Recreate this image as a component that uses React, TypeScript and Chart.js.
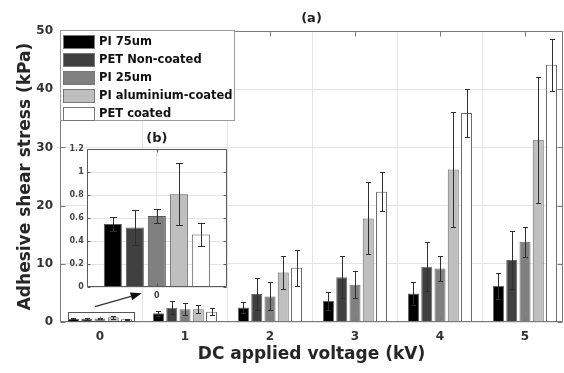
import React, { useEffect, useRef } from "react";
import { Chart, registerables } from "chart.js";
Chart.register(...registerables);

const FONT = "'DejaVu Sans', 'Liberation Sans', sans-serif";

// ---- data ----
const voltages = [0, 1, 2, 3, 4, 5];
const seriesLabels = ["PI 75um", "PET Non-coated", "PI 25um", "PI aluminium-coated", "PET coated"];
const seriesColors = ["#000000", "#404040", "#808080", "#bfbfbf", "#ffffff"];

const pi75 = [0.55, 1.49, 2.5, 3.6, 4.9, 6.2];
const pi75Err = [0.06, 0.4, 1.0, 1.5, 1.9, 2.3];
const petNonCoated = [0.52, 2.46, 4.8, 7.7, 9.5, 10.65];
const petNonCoatedErr = [0.15, 1.15, 2.7, 3.6, 4.2, 4.9];
const pi25 = [0.62, 2.18, 4.4, 6.4, 9.2, 13.8];
const pi25Err = [0.06, 1.03, 2.4, 2.3, 2.2, 2.6];
const piAluminium = [0.81, 2.18, 8.5, 17.8, 26.2, 31.3];
const piAluminiumErr = [0.27, 0.7, 2.8, 6.2, 9.9, 10.8];
const petCoated = [0.46, 1.77, 9.3, 22.4, 35.9, 44.2];
const petCoatedErr = [0.1, 0.58, 3.1, 3.3, 4.1, 4.5];

const seriesValues = [pi75, petNonCoated, pi25, piAluminium, petCoated];
const seriesErrors = [pi75Err, petNonCoatedErr, pi25Err, piAluminiumErr, petCoatedErr];

const insetCategories = ["0"];
const insetIndex = 0;

// zoom-box and arrow annotation (data coordinates of main chart)
const zoomBoxX = [-0.373, 0.4];
const zoomBoxY = [0, 1.77];
const arrowFrom = [-0.06, 2.63];
const arrowTo = [0.49, 4.93];

const FRAME = "#7a7a7a";

function errorBarPlugin(vals: number[][], errs: number[][], offset: number, cap: number) {
  return {
    id: "errbars",
    afterDatasetsDraw(chart: any) {
      const ctx = chart.ctx;
      const y = chart.scales.y;
      const ca = chart.chartArea;
      ctx.save();
      ctx.beginPath();
      ctx.rect(ca.left, ca.top, ca.right - ca.left, ca.bottom - ca.top);
      ctx.clip();
      ctx.strokeStyle = "#2e2e2e";
      ctx.lineWidth = 1;
      chart.data.datasets.forEach((_: any, i: number) => {
        const meta = chart.getDatasetMeta(i);
        meta.data.forEach((el: any, j: number) => {
          const v = vals[i][j + offset];
          const e = errs[i][j + offset];
          const x = Math.round(el.x) + 0.5;
          const yt = Math.round(y.getPixelForValue(v + e)) + 0.5;
          const yb = Math.round(y.getPixelForValue(v - e)) + 0.5;
          ctx.beginPath();
          ctx.moveTo(x, yt);
          ctx.lineTo(x, yb);
          ctx.moveTo(x - cap, yt);
          ctx.lineTo(x + cap, yt);
          ctx.moveTo(x - cap, yb);
          ctx.lineTo(x + cap, yb);
          ctx.stroke();
        });
      });
      ctx.restore();
    },
  };
}

function framePlugin(tickLen: number, color: string) {
  return {
    id: "frame",
    afterDraw(chart: any) {
      const ctx = chart.ctx;
      const ca = chart.chartArea;
      const l = Math.round(ca.left) + 0.5;
      const r = Math.round(ca.right) - 0.5;
      const t = Math.round(ca.top) + 0.5;
      const b = Math.round(ca.bottom) - 0.5;
      ctx.save();
      ctx.strokeStyle = color;
      ctx.lineWidth = 1;
      ctx.beginPath();
      ctx.rect(l, t, r - l, b - t);
      ctx.stroke();
      const ys = chart.scales.y;
      ys.ticks.forEach((tk: any) => {
        const py = Math.round(ys.getPixelForValue(tk.value)) + 0.5;
        ctx.beginPath();
        ctx.moveTo(l, py);
        ctx.lineTo(l + tickLen, py);
        ctx.moveTo(r, py);
        ctx.lineTo(r - tickLen, py);
        ctx.stroke();
      });
      const xs = chart.scales.x;
      xs.ticks.forEach((tk: any, i: number) => {
        const px = Math.round(xs.getPixelForTick(i)) + 0.5;
        ctx.beginPath();
        ctx.moveTo(px, t);
        ctx.lineTo(px, t + tickLen);
        ctx.moveTo(px, b);
        ctx.lineTo(px, b - tickLen);
        ctx.stroke();
      });
      ctx.restore();
    },
  };
}

const annotationPlugin = {
  id: "zoomAnnot",
  afterDraw(chart: any) {
    const ctx = chart.ctx;
    const xs = chart.scales.x;
    const ys = chart.scales.y;
    ctx.save();
    ctx.strokeStyle = "#555";
    ctx.lineWidth = 1;
    const x0 = Math.round(xs.getPixelForValue(zoomBoxX[0])) + 0.5;
    const x1 = Math.round(xs.getPixelForValue(zoomBoxX[1])) + 0.5;
    const y0 = Math.round(ys.getPixelForValue(zoomBoxY[1])) + 0.5;
    const y1 = Math.round(ys.getPixelForValue(zoomBoxY[0])) - 0.5;
    ctx.strokeRect(x0, y0, x1 - x0, y1 - y0);
    const ax = xs.getPixelForValue(arrowFrom[0]);
    const ay = ys.getPixelForValue(arrowFrom[1]);
    const bx = xs.getPixelForValue(arrowTo[0]);
    const by = ys.getPixelForValue(arrowTo[1]);
    const ang = Math.atan2(by - ay, bx - ax);
    const hl = 11;
    const hw = 4;
    const baseX = bx - hl * Math.cos(ang);
    const baseY = by - hl * Math.sin(ang);
    ctx.strokeStyle = "#333";
    ctx.lineWidth = 1.2;
    ctx.beginPath();
    ctx.moveTo(ax, ay);
    ctx.lineTo(baseX, baseY);
    ctx.stroke();
    ctx.fillStyle = "#111";
    ctx.beginPath();
    ctx.moveTo(bx, by);
    ctx.lineTo(baseX - hw * Math.sin(ang), baseY + hw * Math.cos(ang));
    ctx.lineTo(baseX + hw * Math.sin(ang), baseY - hw * Math.cos(ang));
    ctx.closePath();
    ctx.fill();
    ctx.restore();
  },
};

const whiteAreaPlugin = {
  id: "whiteArea",
  beforeDraw(chart: any) {
    const ca = chart.chartArea;
    const ctx = chart.ctx;
    ctx.save();
    ctx.fillStyle = "#ffffff";
    ctx.fillRect(ca.left, ca.top, ca.right - ca.left, ca.bottom - ca.top);
    ctx.restore();
  },
};

export default function App() {
  const mainRef = useRef<HTMLCanvasElement>(null);
  const insetRef = useRef<HTMLCanvasElement>(null);

  useEffect(() => {
    Chart.defaults.font.family = FONT;

    const main = new Chart(mainRef.current!, {
      type: "bar",
      data: {
        datasets: seriesLabels.map((label, i) => ({
          label,
          data: voltages.map((v, j) => ({ x: v, y: seriesValues[i][j] })),
          backgroundColor: seriesColors[i],
          borderColor: "#6a6a6a",
          borderWidth: 1,
          categoryPercentage: 0.78,
          barPercentage: 0.83,
        })),
      },
      options: {
        animation: false,
        responsive: false,
        devicePixelRatio: 1,
        layout: { padding: { left: 0, right: 1, top: 0, bottom: 0 } },
        plugins: {
          legend: { display: false },
          tooltip: { enabled: false },
          title: {
            display: true,
            text: "(a)",
            fullSize: false,
            color: "#1e1e1e",
            font: { family: FONT, size: 13, weight: "bold" },
            padding: { top: 10.7, bottom: 4.7 },
          },
        },
        scales: {
          x: {
            type: "linear",
            min: -0.4706,
            max: 5.447,
            offset: false,
            ticks: {
              stepSize: 1,
              includeBounds: false,
              color: "#333",
              font: { family: FONT, size: 12, weight: "bold" },
              padding: 8,
            },
            grid: { color: "#e4e4e4", drawTicks: false },
            border: { display: false },
            title: {
              display: true,
              text: "DC applied voltage (kV)",
              color: "#262626",
              font: { family: FONT, size: 17, weight: "bold" },
              padding: { top: 0, bottom: 8 },
            },
            afterFit: (s: any) => {
              s.height = 51;
            },
          },
          y: {
            min: 0,
            max: 50,
            ticks: {
              stepSize: 10,
              color: "#333",
              font: { family: FONT, size: 12, weight: "bold" },
              padding: 7,
            },
            grid: { color: "#e4e4e4", drawTicks: false },
            border: { display: false },
            title: {
              display: true,
              text: "Adhesive shear stress (kPa)",
              color: "#262626",
              font: { family: FONT, size: 17, weight: "bold" },
              padding: { top: 15, bottom: 0 },
            },
            afterFit: (s: any) => {
              s.width = 60;
            },
          },
        },
      },
      plugins: [errorBarPlugin(seriesValues, seriesErrors, 0, 2.5), framePlugin(5, FRAME), annotationPlugin],
    } as any);

    const inset = new Chart(insetRef.current!, {
      type: "bar",
      data: {
        labels: insetCategories,
        datasets: seriesLabels.map((label, i) => ({
          label,
          data: [seriesValues[i][insetIndex]],
          backgroundColor: seriesColors[i],
          borderColor: "#5a5a5a",
          borderWidth: 1,
          categoryPercentage: 0.784,
          barPercentage: 0.82,
        })),
      },
      options: {
        animation: false,
        responsive: false,
        devicePixelRatio: 1,
        layout: { padding: { left: 0, right: 8, top: 0, bottom: 0 } },
        plugins: {
          legend: { display: false },
          tooltip: { enabled: false },
          title: {
            display: true,
            text: "(b)",
            fullSize: false,
            color: "#1e1e1e",
            font: { family: FONT, size: 13, weight: "bold" },
            padding: { top: 3.2, bottom: 2.5 },
          },
        },
        scales: {
          x: {
            type: "category",
            offset: true,
            ticks: {
              color: "#444",
              font: { family: FONT, size: 8, weight: "bold" },
              padding: 4,
            },
            grid: { color: "#e4e4e4", drawTicks: false, offset: false },
            border: { display: false },
            afterFit: (s: any) => {
              s.height = 15.7;
            },
          },
          y: {
            min: 0,
            max: 1.2,
            ticks: {
              stepSize: 0.2,
              color: "#444",
              font: { family: FONT, size: 8, weight: "bold" },
              padding: 3,
              callback: (v: any) => String(Number(Number(v).toFixed(1))),
            },
            grid: { color: "#e4e4e4", drawTicks: false },
            border: { display: false },
            afterFit: (s: any) => {
              s.width = 26.7;
            },
          },
        },
      },
      plugins: [whiteAreaPlugin, errorBarPlugin(seriesValues, seriesErrors, insetIndex, 3.5), framePlugin(3, "#5a5a5a")],
    } as any);

    return () => {
      main.destroy();
      inset.destroy();
    };
  }, []);

  const rowTops = [0, 1, 2, 3, 4];

  return (
    <div style={{ position: "fixed", left: 0, top: 0, width: 564, height: 373, background: "#fff", overflow: "hidden" }}>
      <canvas ref={mainRef} width={564} height={373} style={{ position: "absolute", left: 0, top: 0, width: 564, height: 373 }} />
      <div
        style={{
          position: "absolute",
          left: 60,
          top: 30,
          width: 175,
          height: 91,
          boxSizing: "border-box",
          border: "1px solid #9a9a9a",
          background: "#fff",
        }}
      >
        {seriesLabels.map((label, i) => (
          <div
            key={label}
            style={{
              position: "absolute",
              left: 2,
              top: 3 + rowTops[i] * 18.1,
              height: 15,
              display: "flex",
              alignItems: "center",
              whiteSpace: "nowrap",
            }}
          >
            <div
              style={{
                width: 32,
                height: 14,
                boxSizing: "border-box",
                background: seriesColors[i],
                border: "1px solid #777",
                marginRight: 4,
              }}
            />
            <span style={{ fontFamily: FONT, fontWeight: "bold", fontSize: 11.5, color: "#111", lineHeight: "15px" }}>{label}</span>
          </div>
        ))}
      </div>
      <canvas ref={insetRef} width={175} height={175} style={{ position: "absolute", left: 60, top: 128, width: 175, height: 175 }} />
    </div>
  );
}
